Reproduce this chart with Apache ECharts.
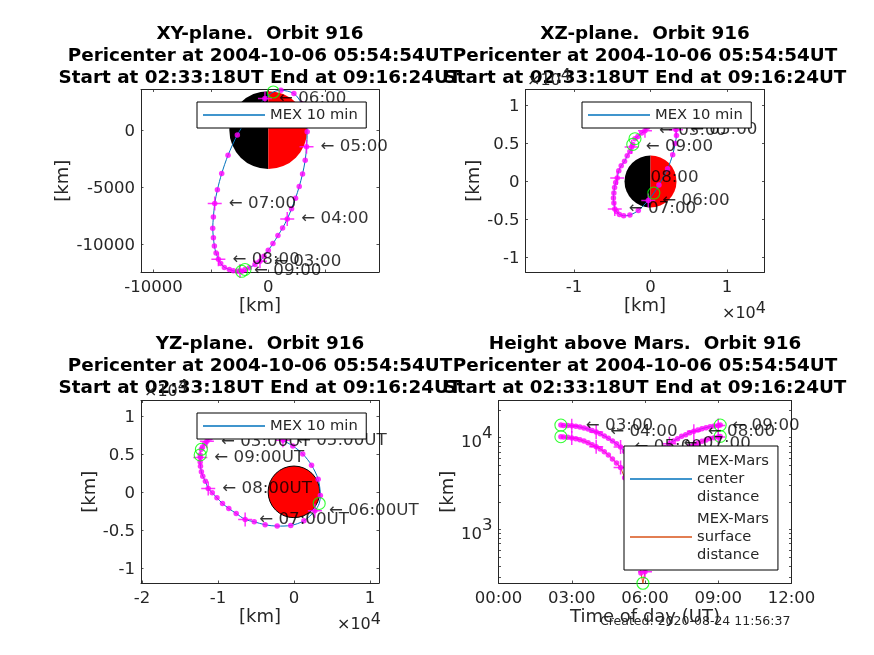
<!DOCTYPE html>
<html><head><meta charset="utf-8">
<style>html,body{margin:0;padding:0;background:#fff}#c{width:874px;height:655px}</style>
<script src="https://cdn.jsdelivr.net/npm/echarts@6/dist/echarts.min.js"></script></head>
<body><div id="c"></div>
<script>
// sample times in hours: start, 10-minute samples, pericenter (index 21), end
const hours = [2.555,2.667,2.833,3,3.167,3.333,3.5,3.667,3.833,4,4.167,4.333,4.5,4.667,4.833,5,5.167,5.333,5.5,5.667,5.833,5.915,6,6.167,6.333,6.5,6.667,6.833,7,7.167,7.333,7.5,7.667,7.833,8,8.167,8.333,8.5,8.667,8.833,9,9.08];
const posX = [-2030,-1653,-1160,-725,-377,0,406,841,1247,1653,2030,2378,2697,2987,3219,3335,3393,3219,2900,2233,1102,435,-290,-1595,-2697,-3509,-4060,-4437,-4669,-4785,-4843,-4785,-4698,-4553,-4350,-4147,-3828,-3393,-3045,-2697,-2465,-2320];
const posY = [-12180,-12030,-11745,-11455,-11020,-10500,-9920,-9220,-8555,-7770,-6870,-5945,-4930,-3830,-2640,-1450,-145,1160,2320,3190,3480,3329,2759,1314,-420,-2200,-3790,-5220,-6420,-7600,-8570,-9400,-10130,-10750,-11280,-11650,-12000,-12180,-12300,-12340,-12320,-12340];
const posZ = [5606,5913,6350,6660,7100,7550,7900,8100,8250,8330,8320,8230,8070,7830,7500,6790,6044,4993,3504,1664,-482,-1533,-2497,-3810,-4424,-4511,-4336,-3942,-3635,-2847,-2190,-1533,-788,-131,438,1400,2060,2630,3370,3940,4510,4860];
const centerDist = [13720,13600,13600,13490,13270,13050,12730,12410,12000,11510,11040,10410,9826,9192,8600,7912,7050,6200,5300,4450,3732,3656,3743,4480,5330,6200,6980,7800,8600,9192,9745,10340,10780,11330,11720,12120,12530,12840,13170,13390,13600,13720];
const surfaceDist = [10240,10160,10080,9910,9745,9504,9192,8817,8387,7977,7525,7040,6473,5858,5301,4717,3650,2800,1900,1050,335,259,346,1080,1930,2800,3580,4400,5200,5800,6350,6940,7380,7930,8320,8720,9130,9440,9770,9990,10160,10320];
const PERI = 21;
const hourIdx = [3,9,15,22,28,34,40];
const hourNames = ['03:00','04:00','05:00','06:00','07:00','08:00','09:00'];
const marsRadius = 3397;
const titles = ['XY-plane.  Orbit 916','XZ-plane.  Orbit 916','YZ-plane.  Orbit 916','Height above Mars.  Orbit 916'];
const subtitle = 'Pericenter at 2004-10-06 05:54:54UT\nStart at 02:33:18UT End at 09:16:24UT';
const legendOrbit = 'MEX 10 min';
const legendCenter = 'MEX-Mars\ncenter\ndistance';
const legendSurface = 'MEX-Mars\nsurface\ndistance';
const xyXTicks=[-10000,-5000,0,5000], xyXLabels=[-10000,0], xyYTicks=[-10000,-5000,0];
const xzXTicks=[-10000,0,10000], zTicks=[-10000,-5000,0,5000,10000], yzYTicks=[-20000,-10000,0,10000];
const timeTicks=[0,3,6,9,12];
const logMajor=[1000,10000];
const logAll=[300,400,500,600,700,800,900,1000,2000,3000,4000,5000,6000,7000,8000,9000,10000,20000];

const INK='#262626', MAG='#ff00ff', GREEN='#00ff00', BLUE='#0072BD', ORANGE='#D95319';
const FONT='DejaVu Sans', FS=16.5, LFS=16.7, NFS=18;
const grids=[
 {left:141,top:89.5,width:238,height:182.5},
 {left:525.5,top:89.5,width:239,height:182.5},
 {left:141,top:400.5,width:238,height:182.5},
 {left:498.5,top:400.5,width:293,height:182.5}];
const ranges=[
 {x:[-11096,9652],y:[-12400,3548]},
 {x:[-16340,14900],y:[-11900,12070]},
 {x:[-20130,11200],y:[-12000,12026]},
 {x:[0,12],y:[260.6,25400]}];
const div4=v=>String(v/10000);
const xA=[],yA=[];
function addAxes(g,type,r,xt,xl,yt,yl,fx,fy,xName,yName,xGap,yGap){
 const common={gridIndex:g,splitLine:{show:false},axisLine:{onZero:false,lineStyle:{color:INK,width:1}},
   axisTick:{inside:true,length:2.5,lineStyle:{color:INK,width:0.8}}};
 const nm={color:INK,fontSize:NFS,fontFamily:FONT};
 xA.push({...common,type:'value',min:r.x[0],max:r.x[1],position:'bottom',name:xName,nameLocation:'middle',nameGap:xGap,nameTextStyle:nm,
   axisTick:{...common.axisTick,customValues:xt},
   axisLabel:{customValues:xl,formatter:fx,color:INK,fontSize:FS,fontFamily:FONT,margin:7,hideOverlap:false}});
 xA.push({...common,type:'value',min:r.x[0],max:r.x[1],position:'top',axisTick:{...common.axisTick,customValues:xt},axisLabel:{show:false}});
 yA.push({...common,type:type,min:r.y[0],max:r.y[1],position:'left',name:yName,nameLocation:'middle',nameGap:yGap,nameTextStyle:nm,
   axisTick:{...common.axisTick,customValues:yt},
   axisLabel:{customValues:yl,formatter:fy,color:INK,fontSize:FS,fontFamily:FONT,margin:6,hideOverlap:false,
     padding:type==='log'?0:[3,0,0,0],
     rich:{b:{fontSize:FS,color:INK,padding:[10,0,0,0],fontFamily:FONT},s:{fontSize:FS,color:INK,padding:[0,0,8,0],fontFamily:FONT}}}});
 yA.push({...common,type:type,min:r.y[0],max:r.y[1],position:'right',axisTick:{...common.axisTick,customValues:yt},axisLabel:{show:false}});
}
addAxes(0,'value',ranges[0],xyXTicks,xyXLabels,xyYTicks,xyYTicks,String,String,'[km]','[km]',25,63);
addAxes(1,'value',ranges[1],xzXTicks,xzXTicks,zTicks,zTicks,div4,div4,'[km]','[km]',25,38);
addAxes(2,'value',ranges[2],yzYTicks,yzYTicks,zTicks,zTicks,div4,div4,'[km]','[km]',25,39);
addAxes(3,'log',ranges[3],timeTicks,timeTicks,logAll,logMajor,
  v=>String(v).padStart(2,'0')+':00',v=>'{b|10}{s|'+Math.round(Math.log10(v))+'}','Time of day (UT)','[km]',25,39);

const series=[];
function mars(g,halves){
 series.push({type:'custom',xAxisIndex:g*2,yAxisIndex:g*2,z:1,silent:true,clip:false,
  data:[[0,0]],encode:{x:0,y:1},
  renderItem(p,api){
   const c=api.coord([0,0]),r=api.size([marsRadius,0])[0];
   const sector=(s,e,fill,st)=>({type:'sector',shape:{cx:c[0],cy:c[1],r0:0,r:r,startAngle:s,endAngle:e},style:{fill,stroke:st||null,lineWidth:st?1:0}});
   if(halves) return {type:'group',children:[sector(Math.PI/2,Math.PI*1.5,'#000'),sector(-Math.PI/2,Math.PI/2,'#ff0000')]};
   return {type:'group',children:[sector(0,Math.PI*2,'#ff0000','#000')]};
  }});
}
const dotIdx=hours.map((_,i)=>i).filter(i=>i!==PERI);
function marks(g,xs,ys,name,color,smooth,circ){
 const pt=i=>[xs[i],ys[i]];
 const ax={xAxisIndex:g*2,yAxisIndex:g*2};
 series.push({...ax,type:'line',name,data:hours.map((_,i)=>pt(i)),smooth,showSymbol:false,symbol:'none',
   lineStyle:{color,width:1},itemStyle:{color},z:2,clip:false,silent:true});
 series.push({...ax,type:'scatter',data:dotIdx.map(pt),symbol:'circle',symbolSize:5.5,itemStyle:{color:MAG},z:3,clip:false,silent:true});
 series.push({...ax,type:'scatter',data:hourIdx.map(pt),symbol:'path://M0 -10L0 10M-10 0L10 0',symbolSize:14,
   itemStyle:{color:'none',borderColor:MAG,borderWidth:1.5},z:3,clip:false,silent:true});
 series.push({...ax,type:'scatter',data:circ.map(pt),symbol:'circle',symbolSize:12,
   itemStyle:{color:'transparent',borderColor:GREEN,borderWidth:1.1},z:4,clip:false,silent:true});
}
function labels(g,xs,ys,suffix){
 series.push({xAxisIndex:g*2,yAxisIndex:g*2,type:'scatter',symbolSize:0,z:5,clip:false,silent:true,
   data:hourIdx.map((i,k)=>({value:[xs[i],ys[i]],name:'\u2190 '+hourNames[k]+suffix})),
   label:{show:true,position:'right',distance:14,formatter:'{b}',color:'#000',fontSize:LFS,fontFamily:FONT}});
}
const ends=[0,PERI,hours.length-1];
mars(0,true); marks(0,posX,posY,legendOrbit,BLUE,0.3,ends); labels(0,posX,posY,'');
mars(1,true); marks(1,posX,posZ,legendOrbit,BLUE,0.3,ends); labels(1,posX,posZ,'');
mars(2,false); marks(2,posY,posZ,legendOrbit,BLUE,0.3,ends); labels(2,posY,posZ,'UT');
marks(3,hours,centerDist,legendCenter,BLUE,false,[0,hours.length-1]);
marks(3,hours,surfaceDist,legendSurface,ORANGE,false,ends);
labels(3,hours,centerDist,'');

const lg=(left,top,data,extra)=>({left,top,data:data.map(n=>({name:n,icon:'rect'})),z:20,orient:'vertical',
  backgroundColor:'#fff',borderColor:'#000',borderWidth:1,borderRadius:0,itemWidth:62,itemHeight:1.4,itemGap:6,selectedMode:false,
  padding:[5.5,8.5,5.5,6],textStyle:{color:INK,fontSize:14.7,fontFamily:FONT},...extra});
const titleOpt=[];
const centers=[260,645,260,645], tops=[23.5,23.5,333.5,333.5];
titles.forEach((t,i)=>titleOpt.push({text:t+'\n'+subtitle,left:centers[i],top:tops[i],textAlign:'center',padding:0,
  textStyle:{fontFamily:FONT,fontSize:18.36,fontWeight:'bold',color:'#000',lineHeight:22}}));
const exp10=(x,y)=>({type:'text',left:x,top:y,z:8,style:{text:'\u00d710{s|4}',fill:INK,font:'16px "DejaVu Sans"',
   rich:{s:{fontSize:16,fontFamily:FONT,fill:INK,padding:[0,0,9,0]}}}});
const chart=echarts.init(document.getElementById('c'),null,{renderer:'canvas'});
chart.setOption({animation:false,backgroundColor:'#fff',textStyle:{fontFamily:FONT},
 title:titleOpt,grid:grids,xAxis:xA,yAxis:yA,series,
 legend:[lg(197,102,[legendOrbit]),lg(582,102,[legendOrbit]),lg(197,413,[legendOrbit]),
   lg(624,446,[legendCenter,legendSurface],{textStyle:{color:INK,fontSize:14.7,fontFamily:FONT,lineHeight:18},itemGap:4,padding:[6,9,6,6]})],
 graphic:[exp10(722,301),exp10(527,68),exp10(337,612),exp10(144,379),
  {type:'text',left:600,top:615,z:30,style:{text:'Created: 2020-08-24 11:56:37',fill:INK,font:'12.5px "DejaVu Sans"'}}]
});
</script></body></html>
